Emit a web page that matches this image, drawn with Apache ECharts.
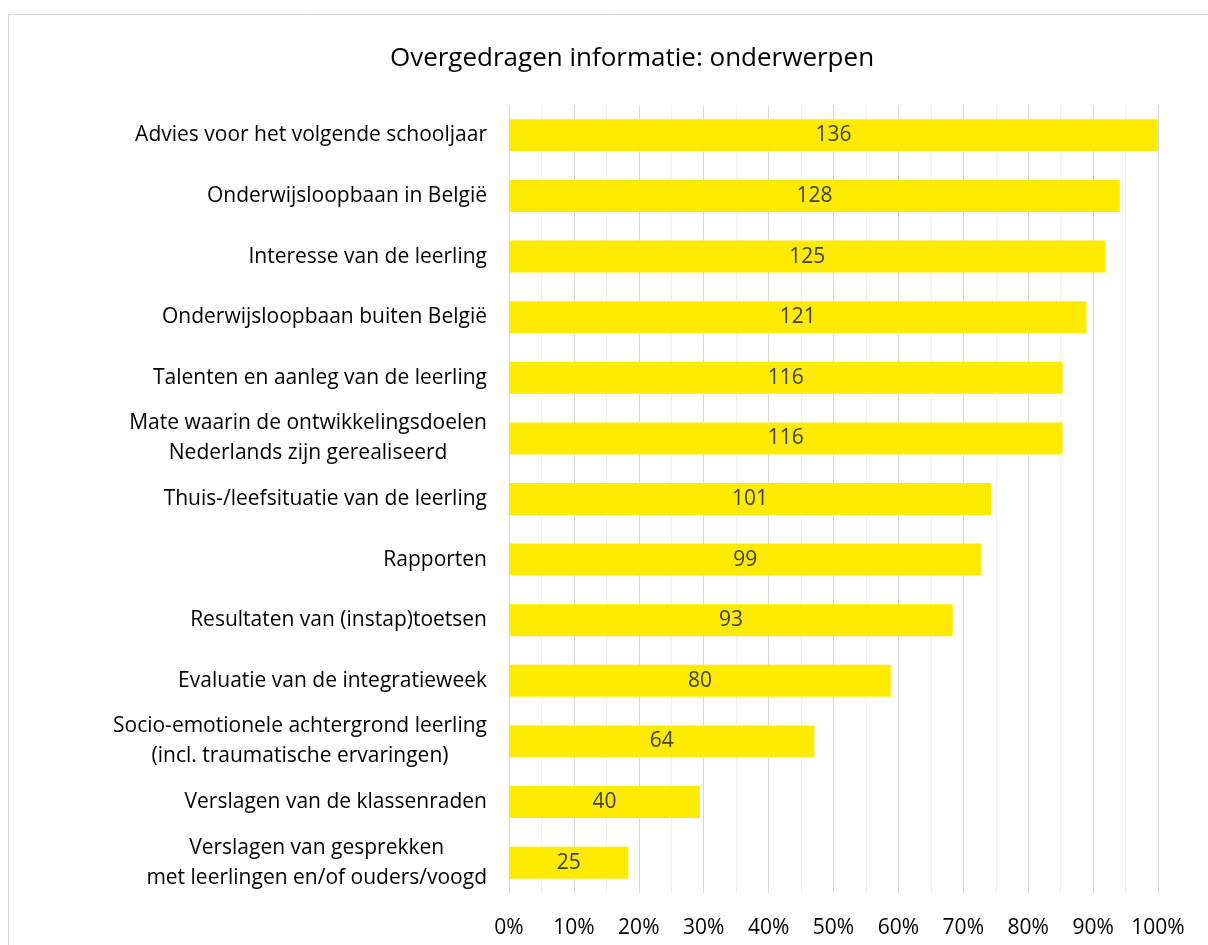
<!DOCTYPE html>
<html>
<head>
<meta charset="utf-8">
<script src="https://cdn.jsdelivr.net/npm/echarts@6/dist/echarts.min.js"></script>
<style>
  html, body { margin: 0; padding: 0; background: #fff; }
  #main { width: 1208px; height: 945px; }
</style>
</head>
<body>
<div id="main"></div>
<script>
const categories = [
  'Advies voor het volgende schooljaar',
  'Onderwijsloopbaan in België',
  'Interesse van de leerling',
  'Onderwijsloopbaan buiten België',
  'Talenten en aanleg van de leerling',
  'Mate waarin de ontwikkelingsdoelen\nNederlands zijn gerealiseerd',
  'Thuis-/leefsituatie van de leerling',
  'Rapporten',
  'Resultaten van (instap)toetsen',
  'Evaluatie van de integratieweek',
  'Socio-emotionele achtergrond leerling\n(incl. traumatische ervaringen)',
  'Verslagen van de klassenraden',
  'Verslagen van gesprekken\nmet leerlingen en/of ouders/voogd'
];
const counts = [136, 128, 125, 121, 116, 116, 101, 99, 93, 80, 64, 40, 25];
const respondents = 136;
const xTicks = [0, 10, 20, 30, 40, 50, 60, 70, 80, 90, 100];

const FONT = '"Open Sans"';

const chart = echarts.init(document.getElementById('main'));

const option = {
  backgroundColor: '#fff',
  textStyle: { fontFamily: FONT },
  title: {
    text: 'Overgedragen informatie: onderwerpen',
    left: 627,
    textAlign: 'center',
    top: 41,
    textStyle: { fontFamily: FONT, fontSize: 26, fontWeight: 'normal', color: '#000' }
  },
  graphic: [{
    type: 'rect',
    shape: { x: 8.5, y: 14.5, width: 1300, height: 1000 },
    style: { fill: 'none', stroke: '#d9d9d9', lineWidth: 1 },
    silent: true
  }],
  grid: { left: 509, right: 50, top: 105, bottom: 52 },
  xAxis: {
    type: 'value',
    min: xTicks[0],
    max: xTicks[xTicks.length - 1],
    interval: 10,
    axisLine: { show: false },
    axisTick: { show: false },
    axisLabel: {
      formatter: '{value}%',
      color: '#000',
      fontSize: 21,
      margin: 25
    },
    splitLine: { show: true, lineStyle: { color: '#d9d9d9', width: 1 } },
    minorTick: { show: false, splitNumber: 2 },
    minorSplitLine: { show: true, lineStyle: { color: '#f0f0f0', width: 1 } }
  },
  yAxis: {
    type: 'category',
    inverse: true,
    data: categories,
    axisLine: { show: false },
    axisTick: { show: false },
    axisLabel: {
      margin: 22,
      fontSize: 21,
      color: '#000',
      formatter: function (v) {
        return v.split('\n').map(function (s) { return '{c|' + s + '}'; }).join('\n');
      },
      rich: {
        c: { align: 'center', fontSize: 21, lineHeight: 30, color: '#000', fontFamily: FONT }
      }
    }
  },
  series: [{
    type: 'bar',
    barWidth: 32,
    data: counts.map(function (c) { return { value: c / respondents * 100, count: c }; }),
    itemStyle: { color: '#ffeb00' },
    label: {
      show: true,
      position: 'inside',
      color: '#404040',
      fontSize: 21,
      fontFamily: FONT,
      formatter: function (p) { return counts[p.dataIndex]; }
    },
    silent: true
  }]
};

chart.setOption(option);
</script>
</body>
</html>
